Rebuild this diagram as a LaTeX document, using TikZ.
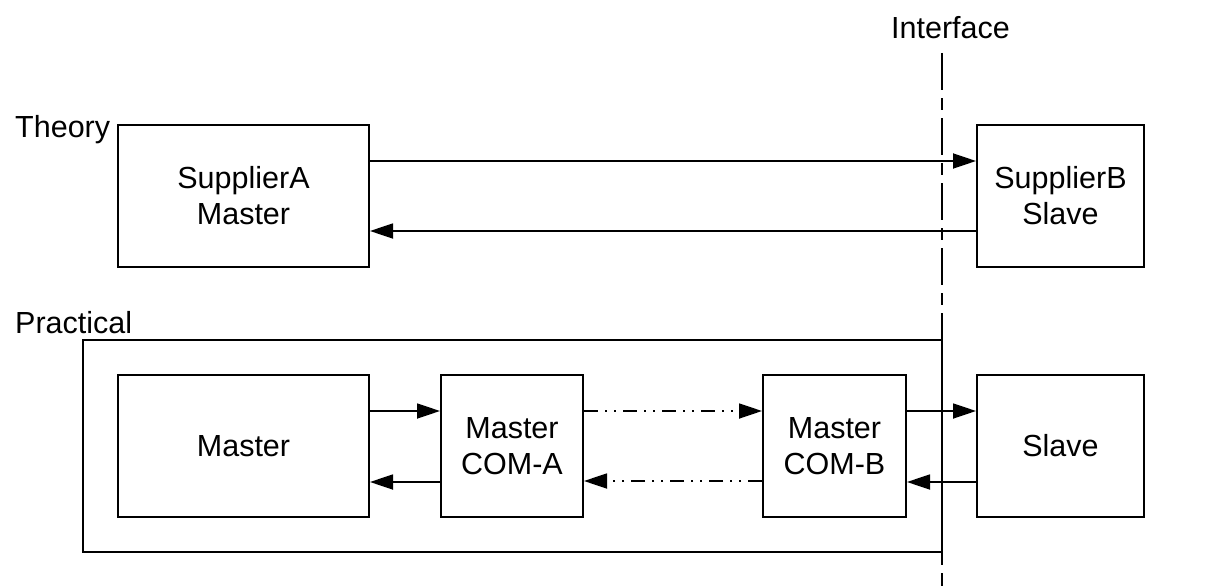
\documentclass[tikz,border=0pt]{standalone}
\usepackage{fontspec}
\setmainfont{Liberation Sans}
\usetikzlibrary{arrows.meta}

\tikzset{
  unit/.style={draw, line width=2pt, minimum height=142pt, align=center,
               inner sep=0pt, font=\fontsize{30.5}{36}\selectfont},
  lbl/.style={inner sep=0pt, font=\fontsize{30.5}{36}\selectfont},
  link/.style={line width=1.8pt, -{Triangle[length=23pt,width=15pt]}},
  bus/.style={link, dash pattern=on 14pt off 7pt on 2pt off 7pt on 2pt off 7pt},
  border/.style={draw, line width=2pt},
  iface/.style={line width=2pt, dash pattern=on 37pt off 8pt on 12pt off 8pt}
}

\begin{document}
\begin{tikzpicture}[x=1pt, y=-1pt]
  \useasboundingbox (0,0) rectangle (1229,586);

  % theoretical arrangement
  \node[lbl, anchor=base west] (theory) at (15,137) {Theory};
  \node[unit, minimum width=251pt] (supA) at (243.5,196) {SupplierA\\Master};
  \node[unit, minimum width=167pt] (supB) at (1060.5,196) {SupplierB\\Slave};
  \draw[link] ([yshift=35pt]supA.east) -- ([yshift=35pt]supB.west);
  \draw[link] ([yshift=-35pt]supB.west) -- ([yshift=-35pt]supA.east);

  % practical arrangement
  \node[lbl, anchor=base west] (practical) at (15,333) {Practical};
  \draw[border] (83,340) rectangle (942,552);
  \node[unit, minimum width=251pt] (mst) at (243.5,446) {Master};
  \node[unit, minimum width=142pt] (comA) at (512,446) {Master\\COM-A};
  \node[unit, minimum width=143pt] (comB) at (834.5,446) {Master\\COM-B};
  \node[unit, minimum width=167pt] (slv) at (1060.5,446) {Slave};

  \draw[link] ([yshift=35pt]mst.east) -- ([yshift=35pt]comA.west);
  \draw[link] ([yshift=-36pt]comA.west) -- ([yshift=-36pt]mst.east);
  \draw[bus] ([yshift=35pt]comA.east) -- ([yshift=35pt]comB.west);
  \draw[bus] ([yshift=-35pt]comB.west) -- ([yshift=-35pt]comA.east);
  \draw[link] ([yshift=35pt]comB.east) -- ([yshift=35pt]slv.west);
  \draw[link] ([yshift=-36pt]slv.west) -- ([yshift=-36pt]comB.east);

  % interface boundary
  \node[lbl, anchor=base] (ifname) at (950.5,39) {Interface};
  \coordinate (ifTop) at (942,53);
  \coordinate (ifBot) at (942,586);
  \draw[iface] (ifTop) -- (ifBot);
\end{tikzpicture}
\end{document}
